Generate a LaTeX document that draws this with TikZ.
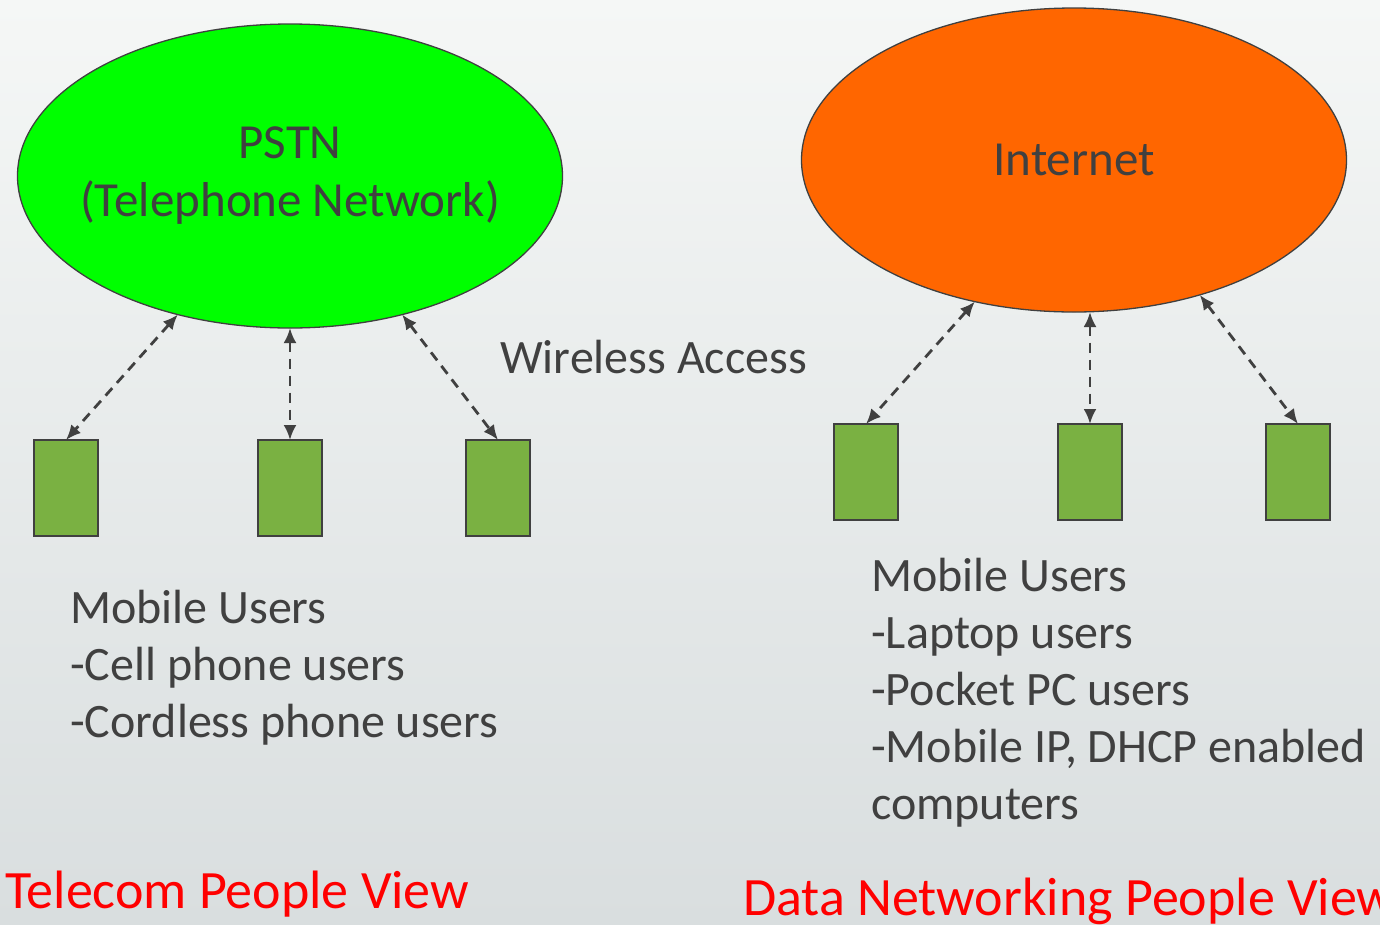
\documentclass[tikz,border=0pt]{standalone}
\usepackage{fontspec}
\setmainfont{Carlito}
\usetikzlibrary{shapes.geometric,arrows.meta}
\definecolor{inkgray}{HTML}{404040}
\definecolor{pstngreen}{HTML}{00FF00}
\definecolor{netorange}{HTML}{FF6600}
\definecolor{userfill}{HTML}{7AB142}
\definecolor{bgtop}{HTML}{F5F7F6}
\definecolor{bgbot}{HTML}{D9DEDF}
\tikzset{
  network/.style={ellipse,draw=inkgray,line width=1.3pt,minimum width=545pt,
    minimum height=304pt,inner sep=0pt,outer sep=0pt},
  nettext/.style={text=inkgray,align=center,inner sep=0pt,
    font=\fontsize{49}{58}\selectfont},
  user/.style={rectangle,draw=inkgray,fill=userfill,line width=2.5pt,
    minimum width=64pt,minimum height=96pt,inner sep=0pt,outer sep=0pt},
  access/.style={<->,draw=inkgray,line width=2.8pt,dash pattern=on 10pt off 7pt},
  caption/.style={anchor=base west,text=inkgray,align=left,inner sep=0pt,
    font=\fontsize{48}{57}\selectfont},
  viewtitle/.style={anchor=base west,text=red,inner sep=0pt,
    font=\fontsize{54}{60}\selectfont}
}
\begin{document}
\begin{tikzpicture}[x=1pt,y=-1pt,>={Latex[length=15pt,width=13pt]}]
   \useasboundingbox (0,0) rectangle (1380,924);
   \clip (0,0) rectangle (1380,924);
   %background
   \shade[top color=bgtop,bottom color=bgbot] (0,0) rectangle (1380,924);
   %networks
   \node[network,fill=pstngreen] (pstn) at (290,176) {};
   \node[nettext] (pstnname) at (pstn) {PSTN\\(Telephone Network)};
   \node[network,fill=netorange] (inet) at (1074,160) {};
   \node[nettext] (inetname) at (inet) {Internet};
   %telecom users
   \node[user] (tel1) at (66,488) {};
   \node[user] (tel2) at (290,488) {};
   \node[user] (tel3) at (498,488) {};
   %data users
   \node[user] (dat1) at (866,472) {};
   \node[user] (dat2) at (1090,472) {};
   \node[user] (dat3) at (1298,472) {};
   %links
   \draw[access] (pstn.231) -- (tel1.north);
   \draw[access] (pstn.south) -- (tel2.north);
   \draw[access] (pstn.309) -- (tel3.north);
   \draw[access] (inet.235) -- (dat1.north);
   \draw[access] (inet.south -| dat2.north) -- (dat2.north);
   \draw[access] (inet.313) -- (dat3.north);
   %description
   \node[caption] (wireless) at (500,373) {Wireless Access};
   \node[caption] (telusers) at (70,737) {Mobile Users\\-Cell phone users\\-Cordless phone users};
   \node[caption] (datusers) at (871,819) {Mobile Users\\-Laptop users\\-Pocket PC users\\-Mobile IP, DHCP enabled\\computers};
   \node[viewtitle] (telview) at (5,908) {Telecom People View};
   \node[viewtitle] (datview) at (743,915) {Data Networking People View};
\end{tikzpicture}
\end{document}
